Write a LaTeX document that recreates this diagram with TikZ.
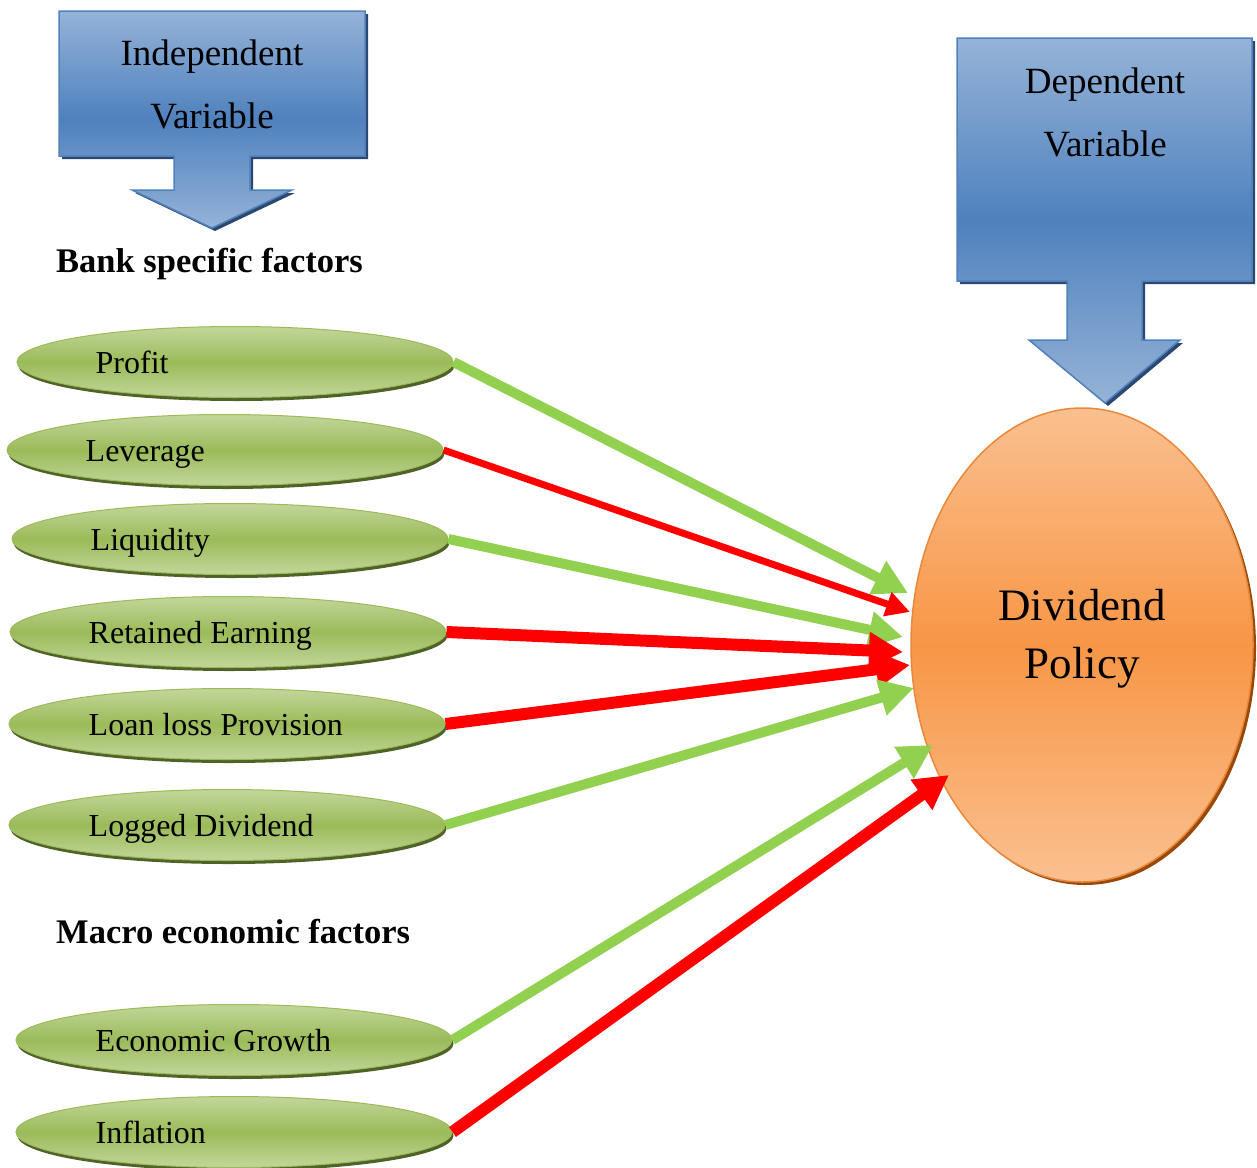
\documentclass[tikz,border=0pt]{standalone}
\usepackage{fontspec}
\setmainfont{Liberation Serif}
\usetikzlibrary{arrows.meta,shapes.geometric,shadows}
\definecolor{blueL}{HTML}{95B3D7}
\definecolor{blueD}{HTML}{4F81BD}
\definecolor{blueS}{HTML}{2C4870}
\definecolor{greenL}{HTML}{C3D69B}
\definecolor{greenM}{HTML}{9BBB59}
\definecolor{greenS}{HTML}{4F6228}
\definecolor{orL}{HTML}{FAC090}
\definecolor{orM}{HTML}{F79646}
\definecolor{orB}{HTML}{E9883A}
\definecolor{orS}{HTML}{984807}
\definecolor{arrG}{HTML}{92D050}
\definecolor{arrR}{HTML}{FF0000}
\begin{document}
\begin{tikzpicture}[x=1pt,y=-1pt,
  callout/.style={draw=blueD, line width=1.5pt, top color=blueL, bottom color=blueL, middle color=blueD,
    drop shadow={shadow xshift=3pt,shadow yshift=-3pt,fill=blueS,opacity=1}},
  factor/.style={ellipse, minimum width=436pt, minimum height=71pt, inner sep=0pt, draw=greenM, line width=1pt,
    top color=greenL, bottom color=greenL, middle color=greenM,
    drop shadow={shadow xshift=1.5pt,shadow yshift=-3.5pt,fill=greenS,opacity=1}},
  ftext/.style={anchor=base west, inner sep=0pt, font=\fontsize{32}{38}\selectfont},
  header/.style={anchor=base west, inner sep=0pt, font=\bfseries\fontsize{34.5}{40}\selectfont},
  title/.style={align=center, inner sep=0pt, font=\fontsize{37}{63}\selectfont},
  bighead/.style={-{Triangle[width=35pt,length=34pt]}},
  smallhead/.style={-{Triangle[width=24pt,length=24pt]}},
  posarrow/.style={arrG, line width=10pt},
  negarrow/.style={arrR, line width=12pt}
]
\useasboundingbox (0,0) rectangle (1257,1167);

% block arrows
\path[callout] (59,11) -- (365,11) -- (365,156) -- (250,156) -- (250,190) -- (292,190) -- (212,228)
  -- (132,190) -- (174,190) -- (174,156) -- (59,156) -- cycle;
\node[title] (indep) at (212,84) {Independent\\Variable};

\path[callout] (957,38) -- (1252,38) -- (1252,281) -- (1142,281) -- (1142,340) -- (1180,340) -- (1105,403)
  -- (1029,340) -- (1067,340) -- (1067,281) -- (957,281) -- cycle;
\node[title] (dep) at (1105,112.5) {Dependent\\Variable};

% dependent ellipse
\node[ellipse, minimum width=342pt, minimum height=474pt, inner sep=0pt, draw=orB, line width=1.5pt,
  top color=orL, bottom color=orL, middle color=orM,
  drop shadow={shadow xshift=3pt,shadow yshift=-3pt,fill=orS,opacity=1}] (dp) at (1082,645) {};
\node[align=center, inner sep=0pt, font=\fontsize{45}{58}\selectfont] (dptext) at (1082,638.5) {Dividend\\Policy};

% headers
\node[header] (bank) at (56,272) {Bank specific factors};
\node[header] (macro) at (56,943) {Macro economic factors};

% factor ellipses
\node[factor] (profit) at (235,362) {};
\node[factor] (leverage) at (225,450) {};
\node[factor] (liquidity) at (230,539) {};
\node[factor] (retained) at (228,632) {};
\node[factor] (loan) at (227,724) {};
\node[factor] (logged) at (227,825) {};
\node[factor] (growth) at (234,1040) {};
\node[factor] (inflation) at (234,1132) {};

\node[ftext] (profitT) at ([xshift=79pt,yshift=-11pt]profit.west) {Profit};
\node[ftext] (leverageT) at ([xshift=79pt,yshift=-11pt]leverage.west) {Leverage};
\node[ftext] (liquidityT) at ([xshift=79pt,yshift=-11pt]liquidity.west) {Liquidity};
\node[ftext] (retainedT) at ([xshift=79pt,yshift=-11pt]retained.west) {Retained Earning};
\node[ftext] (loanT) at ([xshift=80pt,yshift=-11pt]loan.west) {Loan loss Provision};
\node[ftext] (loggedT) at ([xshift=80pt,yshift=-11pt]logged.west) {Logged Dividend};
\node[ftext] (growthT) at ([xshift=80pt,yshift=-11pt]growth.west) {Economic Growth};
\node[ftext] (inflationT) at ([xshift=80pt,yshift=-11pt]inflation.west) {Inflation};

% arrow tips
\coordinate (t1) at (908,593);
\coordinate (t2) at (910,612);
\coordinate (t3) at (903,637);
\coordinate (t4) at (903,652);
\coordinate (t5) at (910,665);
\coordinate (t6) at (914,688);
\coordinate (t7) at (933,745);
\coordinate (t8) at (949,775);

\draw[posarrow, bighead] (profit.east) -- (t1);
\draw[arrR, line width=7pt, smallhead] (leverage.east) -- (t2);
\draw[posarrow, bighead] (liquidity.east) -- (t3);
\draw[negarrow, bighead] (retained.east) -- (t4);
\draw[negarrow, bighead] (loan.east) -- (t5);
\draw[posarrow, bighead] (logged.east) -- (t6);
\draw[posarrow, bighead] (growth.east) -- (t7);
\draw[negarrow, bighead] (inflation.east) -- (t8);
\end{tikzpicture}
\end{document}
